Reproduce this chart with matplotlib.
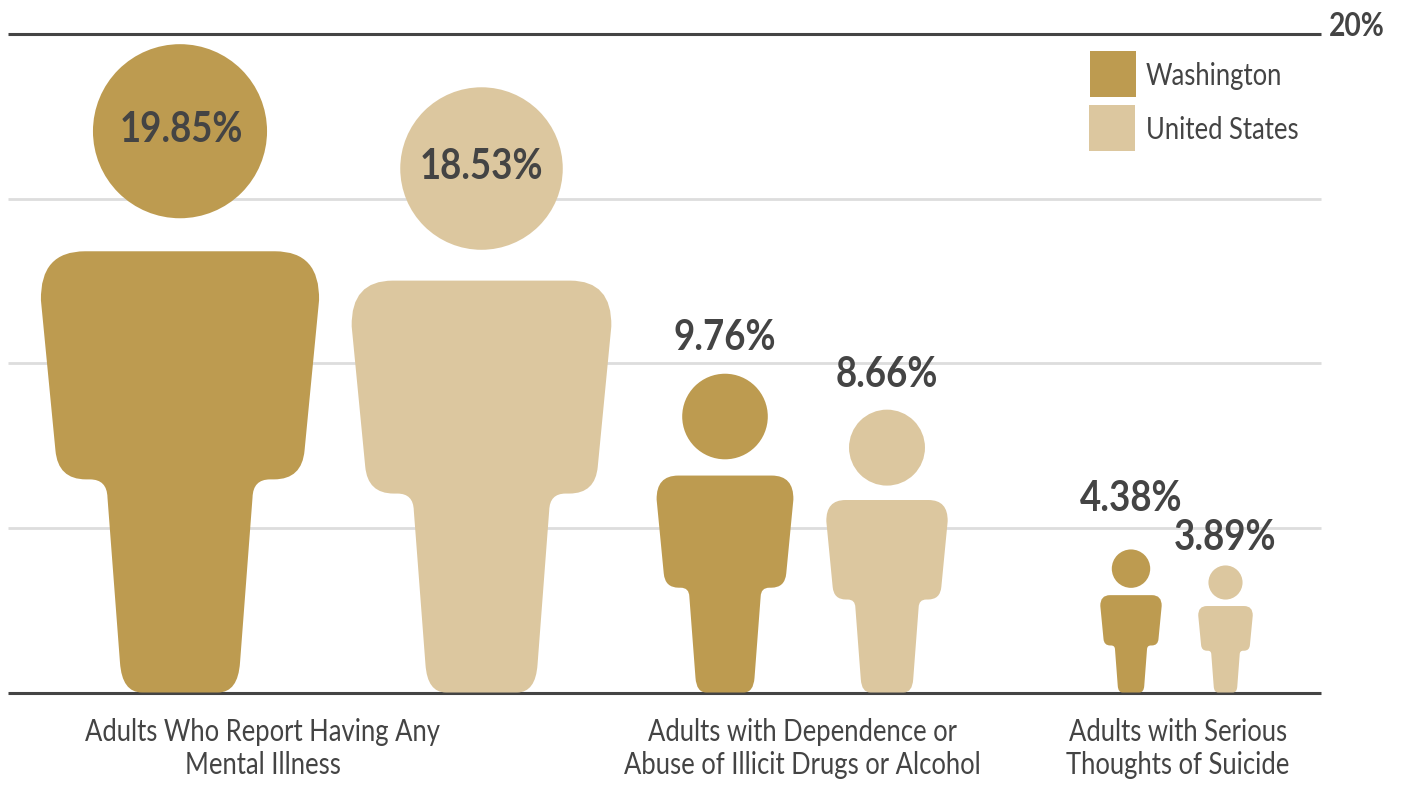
import os
import tempfile
import numpy as np
import matplotlib
matplotlib.use("Agg")
import matplotlib.pyplot as plt
from matplotlib import font_manager as fm
from matplotlib.patches import PathPatch, Rectangle
from matplotlib.path import Path
from fontTools.ttLib import TTFont


def condensed_font(family, weight, new_family, x_scale):
    """Write a horizontally condensed copy of an installed font and register it."""
    src = fm.findfont(fm.FontProperties(family=family, weight=weight))
    font = TTFont(src)
    glyf = font["glyf"]
    for name in font.getGlyphOrder():
        glyph = glyf[name]
        if glyph.isComposite():
            for comp in glyph.components:
                comp.x = int(round(comp.x * x_scale))
        elif glyph.numberOfContours > 0:
            coords = glyph.coordinates
            for k in range(len(coords)):
                coords[k] = (int(round(coords[k][0] * x_scale)), coords[k][1])
        glyph.recalcBounds(glyf) if glyph.numberOfContours != 0 else None
    hmtx = font["hmtx"]
    for name, (adv, lsb) in list(hmtx.metrics.items()):
        hmtx.metrics[name] = (int(round(adv * x_scale)), int(round(lsb * x_scale)))
    for rec in font["name"].names:
        if rec.nameID in (1, 4, 16):
            rec.string = new_family
    path = os.path.join(tempfile.mkdtemp(), new_family.replace(" ", "") + ".ttf")
    font.save(path)
    fm.fontManager.addfont(path)
    return fm.FontProperties(fname=path)


# Prevalence figures (percent)
categories = [
    "Adults Who Report Having Any\nMental Illness",
    "Adults with Dependence or\nAbuse of Illicit Drugs or Alcohol",
    "Adults with Serious\nThoughts of Suicide",
]
washington = [19.85, 9.76, 4.38]
united_states = [18.53, 8.66, 3.89]
series_names = ["Washington", "United States"]
grid_levels = [5, 10, 15]

GOLD = "#BD9B50"
SAND = "#DCC79F"
INK = "#444444"
GRID = "#DDDDDD"

W, H, DPI = 1401, 787, 100
BASE_PX, TOP_PX = 692.5, 34.0
PX_PER_UNIT = (BASE_PX - TOP_PX) / 20
FIGURE_SCALE = 0.992  # the head stops just short of the figure's nominal height

regular = condensed_font("Lato", "regular", "Lato Cond", 0.84)
bold = condensed_font("Lato", "bold", "Lato Cond Bold", 0.88)


def y_at(pixel_row):
    return (BASE_PX - pixel_row) / PX_PER_UNIT


# Right half of the person outline, in units of a 648-tall figure: (kind, x, y)
HALF = [
    (Path.LINETO, 38, 0),
    (Path.CURVE3, 58, 0), (Path.CURVE3, 60, 30),
    (Path.LINETO, 72.5, 195),
    (Path.CURVE3, 73, 213), (Path.CURVE3, 90, 213),
    (Path.LINETO, 94, 213),
    (Path.CURVE3, 122, 213), (Path.CURVE3, 124.5, 242),
    (Path.LINETO, 139, 392),
    (Path.CURVE3, 140, 441), (Path.CURVE3, 95, 441),
    (Path.LINETO, 0, 441),
]
REF_HEIGHT = 648.0


def person_path(center_px, value):
    """Person glyph standing on the baseline, its size set by value."""
    height_px = value * PX_PER_UNIT * FIGURE_SCALE
    s = height_px / REF_HEIGHT
    codes = [Path.MOVETO]
    xs, ys = [0.0], [0.0]
    for kind, x, y in HALF:
        codes.append(kind); xs.append(x); ys.append(y)
    # left side, walked back down the same outline
    rev = HALF[::-1]
    for i in range(1, len(rev)):
        kind = rev[i - 1][0]
        codes.append(kind); xs.append(-rev[i][1]); ys.append(rev[i][2])
    codes.append(Path.LINETO); xs.append(0.0); ys.append(0.0)
    codes.append(Path.CLOSEPOLY); xs.append(0.0); ys.append(0.0)
    body_v = np.column_stack([center_px + np.array(xs) * s,
                              np.array(ys) * s / PX_PER_UNIT])
    circle = Path.unit_circle()
    head_v = np.column_stack([center_px + circle.vertices[:, 0] * 87 * s,
                              (561 + circle.vertices[:, 1] * 87) * s / PX_PER_UNIT])
    return Path(np.vstack([body_v, head_v]), codes + list(circle.codes))


fig = plt.figure(figsize=(W / DPI, H / DPI), dpi=DPI, facecolor="white")
ax = fig.add_axes([0, 0, 1, 1])
ax.set_xlim(0, W)
ax.set_ylim(y_at(H), y_at(0))
ax.axis("off")

# Reference lines
for level in grid_levels:
    ax.plot([8, 1321], [level, level], color=GRID, lw=2.0, solid_capstyle="butt", zorder=1)
for level in (0, 20):
    ax.plot([8, 1321], [level, level], color=INK, lw=2.2, solid_capstyle="butt", zorder=1)
ax.text(1329, y_at(27), "20%", color=INK, font=bold, fontsize=23, ha="left", va="center")

# Paired figures with their value labels
centers = [(180, 481.5), (725, 887), (1131, 1225.5)]
label_rows = [(130, 167), (338, 375), (499, 538)]
label_x = [(181, 481.5), (725, 887), (1131, 1225.5)]
for i in range(len(categories)):
    pairs = ((washington[i], GOLD), (united_states[i], SAND))
    for j, (value, color) in enumerate(pairs):
        ax.add_patch(PathPatch(person_path(centers[i][j], value), facecolor=color,
                               edgecolor="none", zorder=2))
        ax.text(label_x[i][j], y_at(label_rows[i][j]), f"{value:.2f}%", color=INK,
                font=bold, fontsize=30, ha="center", va="center", zorder=3)

# Group captions
caption_x = [262.5, 802, 1178]
for x, caption in zip(caption_x, categories):
    ax.text(x, y_at(718), caption, color=INK, font=regular, fontsize=22, ha="center", va="top",
            linespacing=1.2, zorder=3)

# Legend
legend_rows = [(1090, 51), (1089, 105)]
for (x, row), name, color in zip(legend_rows, series_names, (GOLD, SAND)):
    ax.add_patch(Rectangle((x, y_at(row + 46)), 46, 46 / PX_PER_UNIT, facecolor=color,
                           edgecolor="none", zorder=2))
    ax.text(1146, y_at(row + 25), name, color=INK, font=regular, fontsize=22,
            ha="left", va="center")

fig.savefig("out.png", dpi=DPI)
